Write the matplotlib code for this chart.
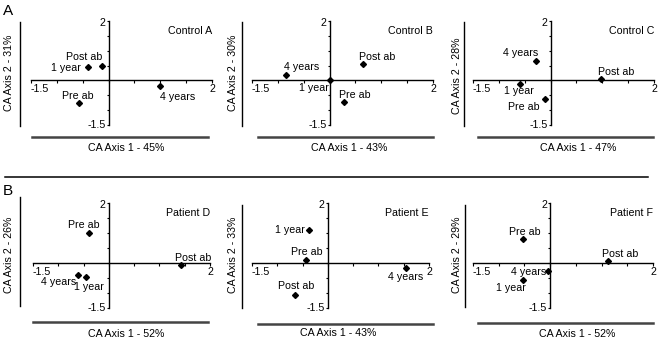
import numpy as np
import matplotlib
matplotlib.use("Agg")
import matplotlib.pyplot as plt
from matplotlib.lines import Line2D

plt.rcParams['font.family'] = ['Liberation Sans', 'DejaVu Sans']

# ---------------- data ----------------
panel_titles = ["Control A", "Control B", "Control C", "Patient D", "Patient E", "Patient F"]
axis1_pct = ["45%", "43%", "47%", "52%", "43%", "52%"]
axis2_pct = ["31%", "30%", "28%", "26%", "33%", "29%"]
time_points = ["Pre ab", "Post ab", "1 year", "4 years"]

# CA coordinates per panel, ordered as time_points
axis1_A = [-0.58, -0.12, -0.40, 0.99]
axis2_A = [-0.76, 0.48, 0.45, -0.20]
axis1_B = [0.28, 0.65, 0.00, -0.85]
axis2_B = [-0.73, 0.56, 0.00, 0.17]
axis1_C = [-0.11, 0.98, -0.60, -0.29]
axis2_C = [-0.64, 0.04, -0.11, 0.65]
axis1_D = [-0.39, 1.43, -0.45, -0.62]
axis2_D = [0.99, -0.06, -0.45, -0.39]
axis1_E = [-0.43, -0.64, -0.38, 1.54]
axis2_E = [0.09, -1.06, 1.11, -0.15]
axis1_F = [-0.53, 1.12, -0.53, -0.05]
axis2_F = [0.79, 0.08, -0.56, -0.26]

xs_all = [axis1_A, axis1_B, axis1_C, axis1_D, axis1_E, axis1_F]
ys_all = [axis2_A, axis2_B, axis2_C, axis2_D, axis2_E, axis2_F]

axis_min, axis_max = -1.5, 2.0

# ---------------- layout (pixels) ----------------
W, H = 661, 340
fig = plt.figure(figsize=(W / 100, H / 100), dpi=100)

# data-rectangle of each panel: (x0, x1, ytop, ybottom) in pixels
rects = [(31, 212, 21, 125), (252, 433, 21, 125), (473, 654, 21, 125),
         (33, 210, 203, 308), (252, 429, 203, 308), (473, 653, 203, 308)]
# vertical y-label rule: (x, ytop, ybottom)
vrules = [(20, 22, 126), (242, 22, 126), (464, 22, 126),
          (20, 197, 306), (242, 205, 308), (465, 205, 307)]
# horizontal x-label rule: (x0, x1, y)
hrules = [(32, 208, 137), (258, 433, 137), (478, 653, 137),
          (33, 208, 322), (258, 433, 324), (478, 653, 323)]
xlabel_pos = [(126, 148), (349, 148), (578, 148), (126, 334), (338, 333), (577, 334)]
ylabel_pos = [(9, 73), (233, 73), (457, 76), (9, 255), (233, 255), (457, 255)]

# label offsets (pixels) per panel, ordered as time_points: (dx, dy, ha)
offsets = [
    [(-1, 7, 'center'), (-18, 9, 'center'), (-7, -1, 'right'), (18, -11, 'center')],
    [(11, 7, 'center'), (14, 7, 'center'), (-16, -8, 'center'), (16, 8, 'center')],
    [(-21, -8, 'center'), (15, 7, 'center'), (-1, -7, 'center'), (-15, 8, 'center')],
    [(-5, 8, 'center'), (12, 7, 'center'), (3, -10, 'center'), (-19, -7, 'center')],
    [(1, 8, 'center'), (1, 9, 'center'), (-4, 0, 'right'), (0, -9, 'center')],
    [(2, 7, 'center'), (12, 7, 'center'), (-12, -8, 'center'), (-19, -1, 'center')],
]

fs = 7.7


def fx(px):
    return px / W


def fy(py):
    return 1 - py / H


for i in range(6):
    x0, x1, yt, yb = rects[i]
    ax = fig.add_axes([fx(x0), fy(yb), (x1 - x0) / W, (yb - yt) / H])
    ax.set_xlim(axis_min, axis_max)
    ax.set_ylim(axis_min, axis_max)
    ax.patch.set_visible(False)
    for s in ['top', 'right']:
        ax.spines[s].set_visible(False)
    for s in ['left', 'bottom']:
        ax.spines[s].set_position('zero')
        ax.spines[s].set_linewidth(1.0)
    ticks = np.arange(axis_min, axis_max + 0.01, 0.5)
    ax.set_xticks(ticks)
    ax.set_yticks(ticks)
    ax.set_xticklabels([])
    ax.set_yticklabels([])
    ax.tick_params(direction='out', length=1.8, width=0.8)

    ax.plot(xs_all[i], ys_all[i], linestyle='none', marker='D', markersize=3.0,
            color='black', clip_on=False)
    for j, name in enumerate(time_points):
        dx, dy, ha = offsets[i][j]
        ax.annotate(name, (xs_all[i][j], ys_all[i][j]), xytext=(dx, dy),
                    textcoords='offset pixels', ha=ha, va='center', fontsize=fs)

    # axis end labels
    ax.annotate("-1.5", (axis_min, 0), xytext=(0, -4), textcoords='offset pixels',
                ha='left', va='top', fontsize=fs)
    ax.annotate("2", (axis_max, 0), xytext=(0, -4), textcoords='offset pixels',
                ha='center', va='top', fontsize=fs)
    ax.annotate("2", (0, axis_max), xytext=(-3, -2), textcoords='offset pixels',
                ha='right', va='center', fontsize=fs)
    ax.annotate("-1.5", (0, axis_min), xytext=(-3, 0), textcoords='offset pixels',
                ha='right', va='center', fontsize=fs)

    ax.text(axis_max, 1.66, panel_titles[i], ha='right', va='center', fontsize=fs)

    # rules and axis titles
    vx, vt, vb = vrules[i]
    fig.add_artist(Line2D([fx(vx), fx(vx)], [fy(vt), fy(vb)], color='black', lw=1.0))
    hx0, hx1, hy = hrules[i]
    fig.add_artist(Line2D([fx(hx0), fx(hx1)], [fy(hy), fy(hy)], color='#444444', lw=1.8))
    lx, ly = xlabel_pos[i]
    fig.text(fx(lx), fy(ly), "CA Axis 1 - " + axis1_pct[i], ha='center', va='center', fontsize=fs)
    yx, yy = ylabel_pos[i]
    fig.text(fx(yx), fy(yy), "CA Axis 2 - " + axis2_pct[i], ha='center', va='center',
             rotation=90, fontsize=fs)

# separator and section letters
fig.add_artist(Line2D([fx(5), fx(648)], [fy(177), fy(177)], color='black', lw=1.1))
fig.text(fx(3), fy(11), "A", ha='left', va='center', fontsize=11)
fig.text(fx(3), fy(191), "B", ha='left', va='center', fontsize=11)

fig.savefig("out.png", dpi=100)
